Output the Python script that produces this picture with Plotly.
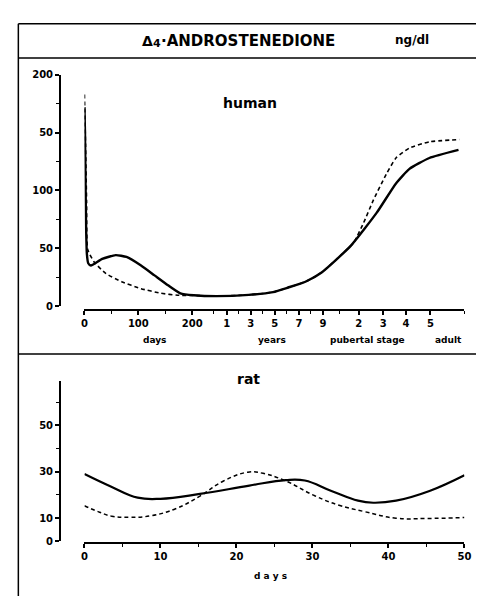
import plotly.graph_objects as go

W, H = 484, 596

# ---------------- data ----------------
# Human panel: composite age axis (0-2 = days/100, then years, then pubertal stage, adult)
human_solid_x = [0.0, 0.01, 0.02, 0.03, 0.045, 0.07, 0.12, 0.33, 0.58, 0.78, 1.05, 1.30, 1.55, 1.78,
                 2.03, 2.45, 3.05, 3.5, 3.78, 4.1, 4.4, 4.94, 5.42, 5.78, 6.03, 6.40, 6.94]
human_solid_y = [172, 150, 110, 70, 45, 37, 35, 40.7, 44, 42.4, 35, 26.5, 18, 11,
                 9.3, 8.5, 9.6, 12, 16, 21, 29, 52, 80.5, 106, 118.6, 128, 135]
human_dash_x = [0.0, 0.02, 0.04, 0.06, 0.18, 0.40, 0.69, 1.05, 1.42, 1.73, 2.1, 2.45, 3.05, 3.5,
                3.78, 4.1, 4.4, 4.94, 5.0, 5.18, 5.36, 5.60, 5.78, 6.03, 6.40, 6.96]
human_dash_y = [183, 140, 90, 49, 38, 28, 21, 15, 11, 9.3, 9, 8.7, 9.6, 12,
                16, 21, 29, 52, 55, 72, 91.5, 114, 128, 136.6, 142, 144]

human_tickvals = [0, 1, 2, 2.64, 3.086, 3.532, 3.978, 4.424, 5.09, 5.545, 5.964, 6.418]
human_ticktext = ["0", "100", "200", "1", "3", "5", "7", "9", "2", "3", "4", "5"]
human_minor_x = [0.5, 1.5, 2.4, 2.863, 3.309, 3.755, 4.201, 4.73, 7.05]
human_ytickvals = [0, 50, 100, 150, 200]
human_yticktext = ["0", "50", "100", "50", "200"]
human_minor_y = [25, 75, 125, 175]

# Rat panel: days of cycle
rat_solid_x = [0, 3.6, 7, 10, 15.2, 21.7, 26.5, 29, 32.5, 36, 38, 41, 45.4, 50]
rat_solid_y = [29, 23.4, 18.8, 18.3, 20.4, 24, 26.4, 26.2, 21.7, 17.5, 16.6, 17.5, 21.7, 28.5]
rat_dash_x = [0, 2, 3.6, 6, 8.8, 12, 15.2, 18.3, 21.5, 23.5, 26.5, 30.3, 33.5, 36.8, 41, 45, 50]
rat_dash_y = [15.3, 12.5, 10.8, 10.3, 11, 14, 19.5, 26, 29.8, 29.3, 26, 19.6, 15.5, 12.8, 9.9, 9.8, 10.2]

rat_xtickvals = [0, 10, 20, 30, 40, 50]
rat_xticktext = ["0", "10", "20", "30", "40", "50"]
rat_minor_x = [5, 15, 25, 35, 45]
rat_ytickvals = [0, 10, 30, 50]
rat_yticktext = ["0", "10", "30", "50"]
rat_minor_y = [20, 40, 60]

# ---------------- helpers ----------------
def px(x):
    return x / W

def py(y):
    return 1 - y / H

FONT = "DejaVu Sans"
tickfont = dict(family=FONT, size=10, color="black", weight="bold")

fig = go.Figure()

fig.add_trace(go.Scatter(x=human_dash_x, y=human_dash_y, mode="lines", xaxis="x", yaxis="y",
                         line=dict(color="black", width=1.6, dash="4px,3px", shape="spline", smoothing=0.5),
                         showlegend=False))
fig.add_trace(go.Scatter(x=human_solid_x, y=human_solid_y, mode="lines", xaxis="x", yaxis="y",
                         line=dict(color="black", width=2.4, shape="spline", smoothing=0.5),
                         showlegend=False))
fig.add_trace(go.Scatter(x=rat_dash_x, y=rat_dash_y, mode="lines", xaxis="x2", yaxis="y2",
                         line=dict(color="black", width=1.5, dash="4px,3px", shape="spline", smoothing=1.2),
                         showlegend=False))
fig.add_trace(go.Scatter(x=rat_solid_x, y=rat_solid_y, mode="lines", xaxis="x2", yaxis="y2",
                         line=dict(color="black", width=2.2, shape="spline", smoothing=1.2),
                         showlegend=False))

axcommon = dict(showgrid=False, zeroline=False, showline=True, linecolor="black", linewidth=1.8,
                ticks="outside", ticklen=4, tickwidth=1.5, tickcolor="black", tickfont=tickfont,
                tickmode="array", fixedrange=True)

def minor(vals):
    return dict(tickmode="array", tickvals=vals, ticks="outside", ticklen=3, tickwidth=1.2,
                tickcolor="black", showgrid=False)

fig.update_layout(
    width=W, height=H, autosize=False,
    margin=dict(l=0, r=0, t=0, b=0),
    paper_bgcolor="white", plot_bgcolor="white",
    xaxis=dict(axcommon, domain=[px(75), px(463)], range=[0, 7.05], anchor="free", position=py(302),
               tickvals=human_tickvals, ticktext=human_ticktext, minor=minor(human_minor_x)),
    yaxis=dict(axcommon, domain=[py(298), py(62)], range=[0, 200], anchor="free", position=px(50),
               tickvals=human_ytickvals, ticktext=human_yticktext, minor=minor(human_minor_y)),
    xaxis2=dict(axcommon, domain=[px(75), px(463)], range=[0, 50], anchor="free", position=py(540),
                tickvals=rat_xtickvals, ticktext=rat_xticktext, minor=minor(rat_minor_x)),
    yaxis2=dict(axcommon, domain=[py(538), py(375)], range=[0, 69], anchor="free", position=px(50),
                tickvals=rat_ytickvals, ticktext=rat_yticktext, minor=minor(rat_minor_y)),
)

# frame lines
shape_line = dict(color="black", width=1.5)
fig.add_shape(type="line", xref="paper", yref="paper", x0=px(7.5), x1=1, y0=py(10), y1=py(10), line=shape_line)
fig.add_shape(type="line", xref="paper", yref="paper", x0=px(7.5), x1=1, y0=py(45), y1=py(45), line=shape_line)
fig.add_shape(type="line", xref="paper", yref="paper", x0=px(7.5), x1=1, y0=py(347), y1=py(347), line=shape_line)
fig.add_shape(type="line", xref="paper", yref="paper", x0=px(7.5), x1=px(7.5), y0=py(10), y1=0, line=shape_line)

def label(text, x, y, size=10, anchor="center"):
    fig.add_annotation(text=text, x=px(x), y=py(y), xref="paper", yref="paper", showarrow=False,
                       xanchor=anchor, yanchor="middle",
                       font=dict(family=FONT, size=size, color="black", weight="bold"))

label("Δ", 132, 28, size=14, anchor="left")
label("4", 143, 30, size=11, anchor="left")
label("·ANDROSTENEDIONE", 151, 28, size=15, anchor="left")
label("ng/dl", 409, 27, size=12)
label("human", 244, 91, size=14)
label("rat", 242, 373, size=14)
label("days", 147, 333, size=9)
label("years", 267, 333, size=9)
label("pubertal stage", 364, 333, size=9)
label("adult", 447, 333, size=9)
label("d a y s", 265, 574, size=9)

fig.write_html("out.html")
